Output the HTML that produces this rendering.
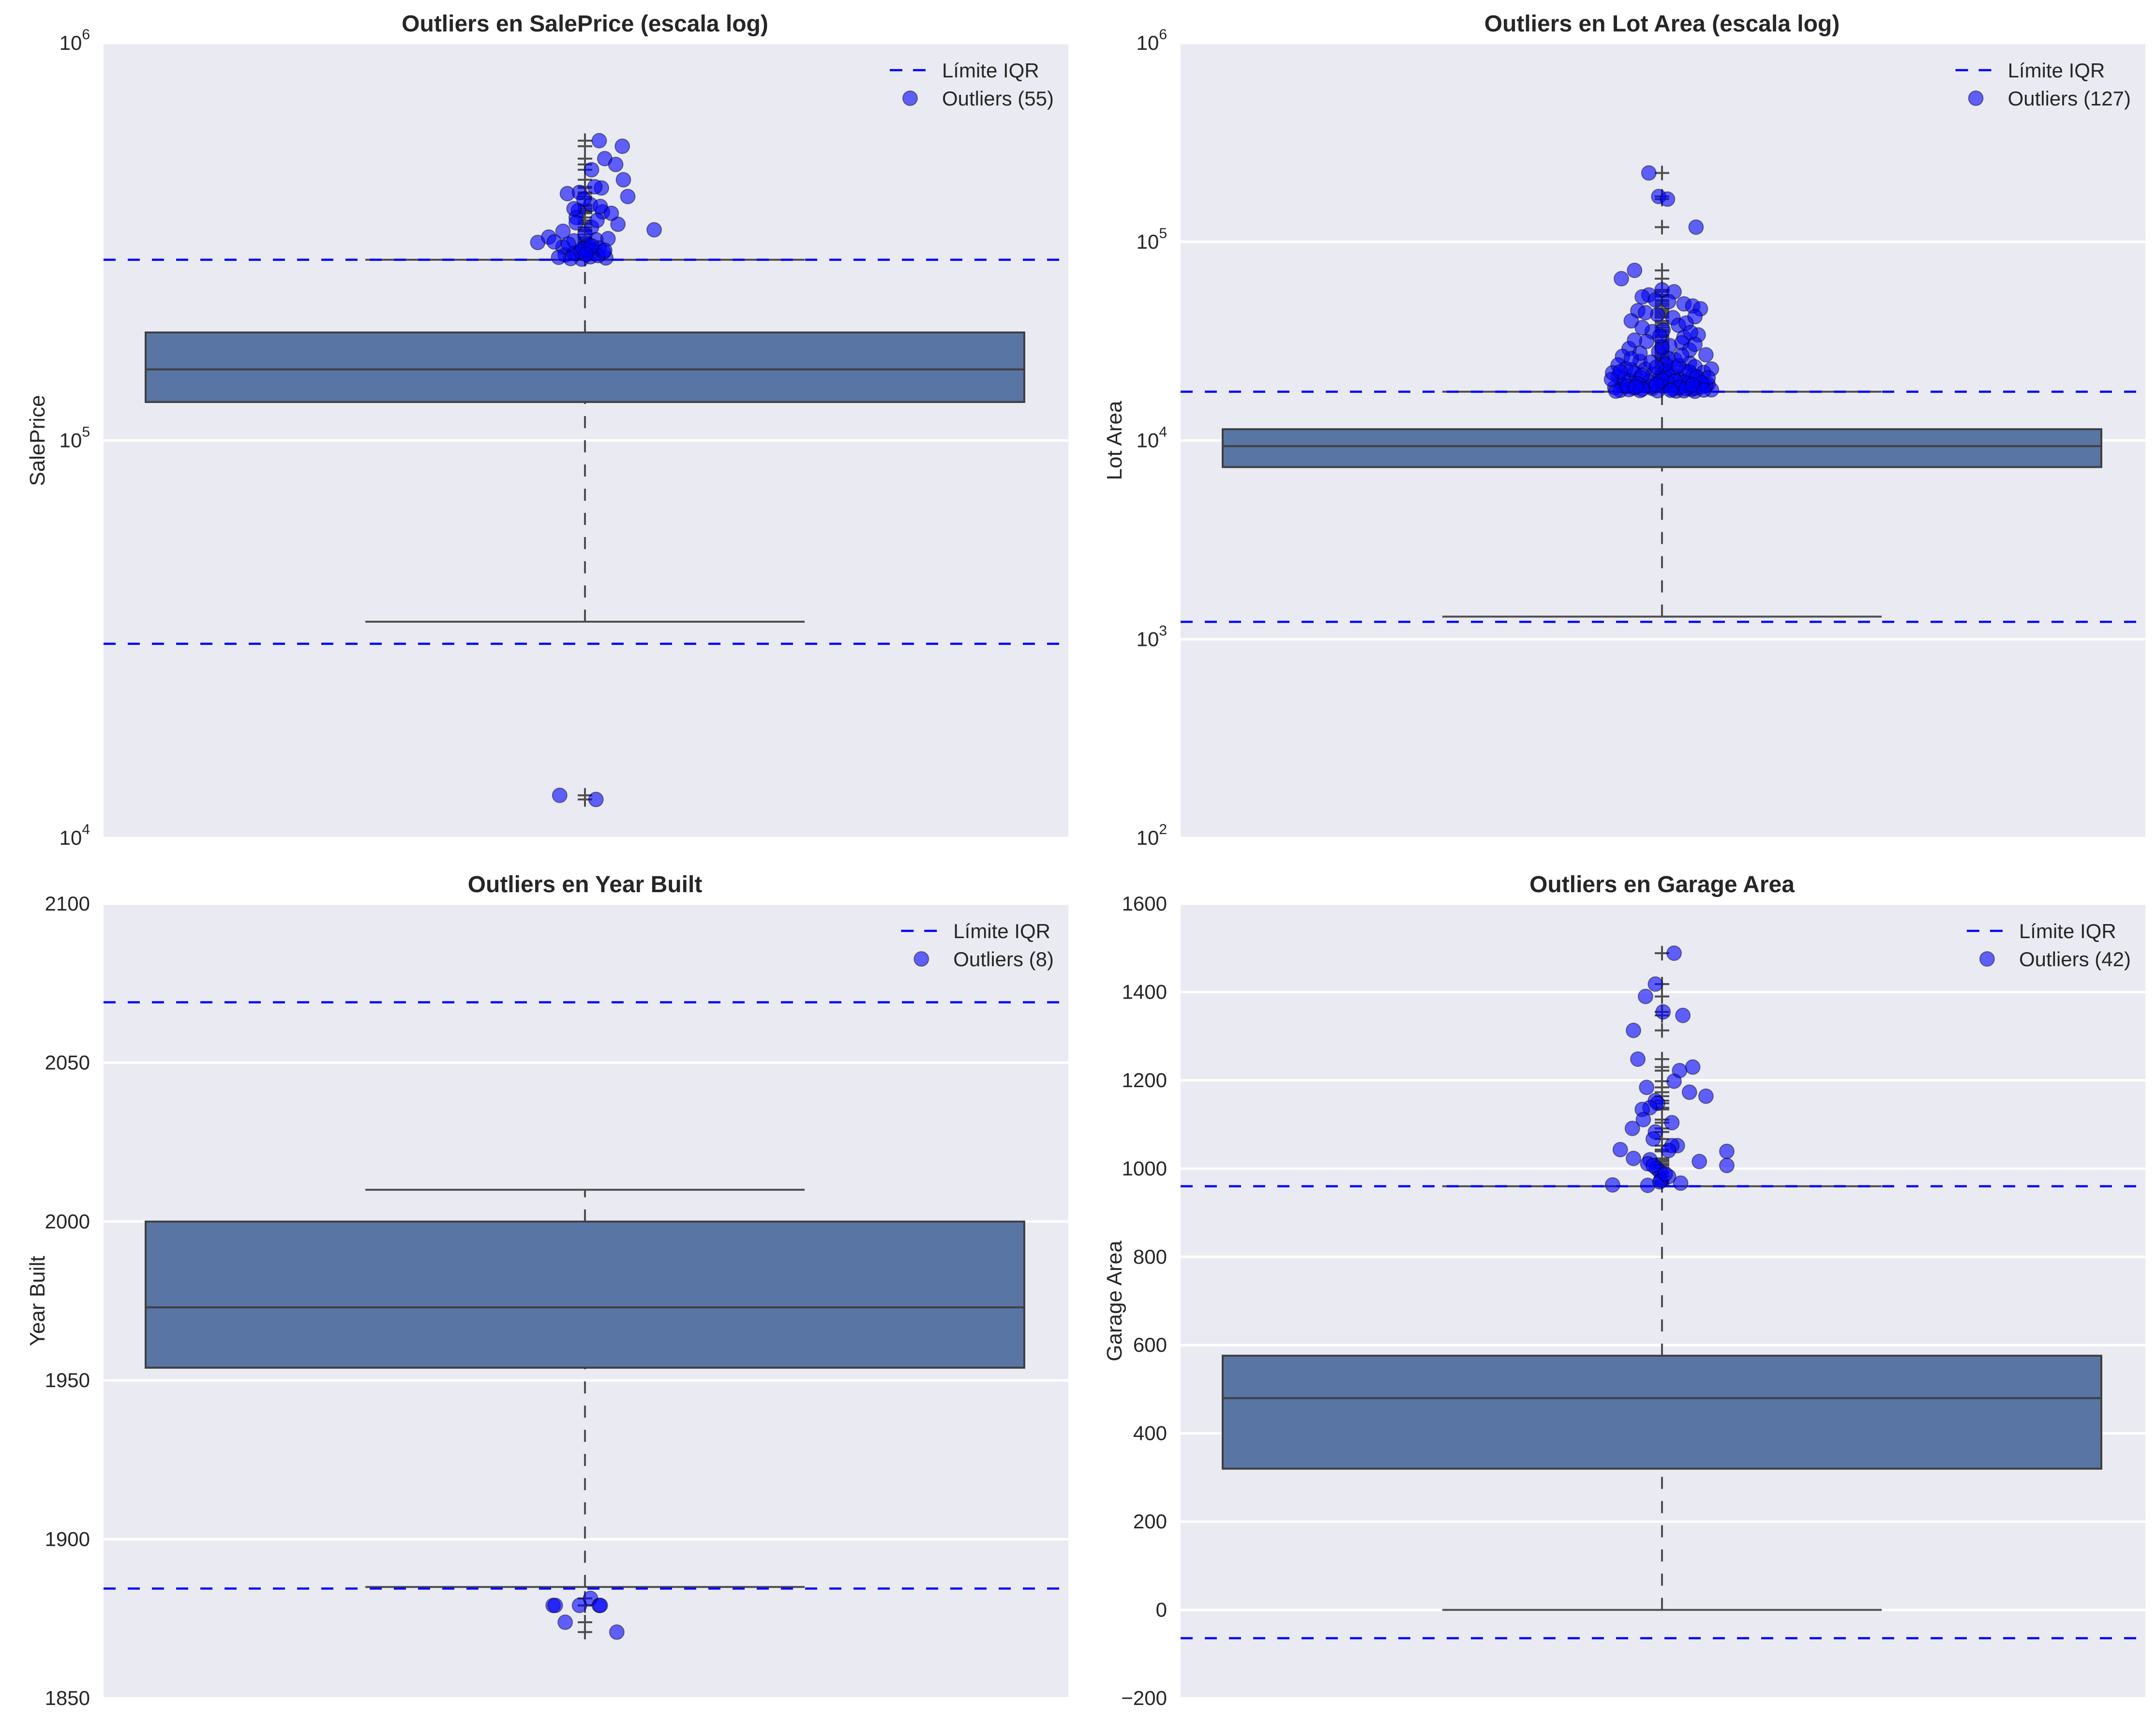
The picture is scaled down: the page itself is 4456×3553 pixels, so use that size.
<!DOCTYPE html>
<html><head><meta charset="utf-8"><style>
html,body{margin:0;padding:0;background:#fff}
svg{display:block;font-family:"Liberation Sans",Arial,sans-serif}
</style></head><body>
<svg id="fig" xmlns="http://www.w3.org/2000/svg" width="4456" height="3553" viewBox="0 0 4456 3553"></svg>
<script>
// ---------- Panel 1: SalePrice (log) ----------
const spStats = [35000, 125000, 151000, 187000, 285000]; // whisker low, Q1, median, Q3, whisker high
const spLimits = [30800, 285000];
const spValues = [568000,550000,512000,495000,480000,453000,432000,418000,421000,411000,392000,376000,379000,350000,339000,344000,315000,325000,336000,364000,318000,320000,293000,295000,300000,286000,290000,287000,310000,358000,405000,373000,435000,353000,330000,305000,307000,388000,296000,299000,302000,312000,288000,292000,298000,304000,322000,316000,309000,289000,301000,294000,383000,12800,12500];
const spJitter = [0.013,0.034,0.018,0.028,0.006,0.035,0.015,-0.016,-0.005,0.039,0.005,0.016,-0.006,0.030,0.063,0.006,-0.043,-0.033,-0.020,-0.008,-0.010,0.010,-0.018,-0.008,0.008,-0.003,0.005,-0.013,0.003,0.011,-0.001,0.024,0.009,-0.008,0.000,0.013,-0.020,0.014,-0.010,-0.004,0.003,-0.015,0.019,0.012,0.017,-0.002,0.021,-0.028,0.006,-0.024,0.018,0.001,-0.010,-0.023,0.010];
const spTicks = [4,5,6];

// ---------- Panel 2: Lot Area (log) ----------
const laStats = [1300, 7350, 9370, 11400, 17600];
const laLimits = [1224, 17600];
const laValues = [222000,169000,164000,118500,71800,65200,57300,56000,54000,52800,51000,50000,48700,47500,45000,46000,43000,41500,40000,38000,36000,35300,34000,33000,31500,31000,30000,29000,28000,27000,26500,25500,25000,24500,24000,23500,
23000,22800,22500,22300,22000,21800,21600,21400,21200,21000,20800,20600,20400,20200,20000,19800,19600,19400,19200,19000,18900,18800,18700,18600,18500,18400,18300,18200,18100,18000,17900,17850,17800,17750,17700,
23200,22700,22100,21700,21300,20900,20500,20100,19700,19300,18950,18650,18350,18050,17800,26000,24800,23800,27500,28500,32000,37000,39000,42000,44000,30500,29500,26800,25800,24200,23400,22900,21900,20700,19900,19100,18450,18150,17900,17720,33500,35000,22200,20300,19500,18750,18250,18550,19050,17950];
const laJitter = [-0.012,-0.003,0.005,0.031,-0.025,-0.037,0.000,0.011,-0.012,-0.018,-0.006,0.006,0.020,0.028,-0.022,0.035,-0.004,0.010,-0.028,0.015,0.001,-0.009,0.033,0.020,-0.014,0.018,0.007,-0.030,-0.003,0.040,-0.036,0.012,-0.020,0.025,-0.040,0.030,
-0.033,-0.015,0.003,0.021,0.038,-0.025,-0.008,0.010,0.028,-0.040,-0.020,-0.002,0.016,0.034,-0.030,-0.012,0.006,0.024,0.042,-0.036,-0.018,0.000,0.018,0.036,-0.043,-0.026,-0.009,0.009,0.027,0.045,-0.038,-0.020,-0.004,0.013,0.030,
0.012,-0.028,0.025,0.005,-0.018,0.032,-0.035,0.000,0.020,-0.022,0.040,-0.010,0.030,-0.030,0.020,0.005,-0.010,0.015,-0.020,0.025,-0.025,-0.018,0.022,0.030,-0.015,0.030,0.000,0.018,-0.028,0.003,-0.005,0.045,-0.045,0.042,0.012,-0.005,0.015,-0.018,0.008,-0.042,-0.002,0.026,-0.038,-0.046,0.036,-0.032,0.022,-0.024,0.028,0.038];
const laTicks = [2,3,4,5,6];

// ---------- Panel 3: Year Built ----------
const ybStats = [1885, 1954, 1973, 2000, 2010];
const ybLimits = [1884.5, 2069];
const ybValues = [1879.2,1873.9,1879.2,1881.4,1879.2,1879.2,1870.8,1879.2];
const ybJitter = [-0.029,-0.018,-0.005,0.005,0.013,0.014,0.029,-0.027];
const ybTicks = [1850,1900,1950,2000,2050,2100];

// ---------- Panel 4: Garage Area ----------
const gaStats = [0, 320, 480, 576, 960];
const gaLimits = [-64, 960];
const gaValues = [1488,1418,1390,1355,1347,1313,1248,1230,1222,1198,1184,1173,1164,1154,1148,1138,1134,1111,1104,1091,1083,1067,1052,1052,1041,1039,1043,1023,1020,1016,1011,1007,1001,993,982,973,967,963,962,970,988,1007];
const gaJitter = [0.011,-0.006,-0.015,0.001,0.019,-0.026,-0.022,0.028,0.016,0.011,-0.014,0.025,0.040,-0.006,-0.004,-0.011,-0.018,-0.017,0.009,-0.027,-0.006,-0.008,0.014,0.009,0.006,0.059,-0.038,-0.026,-0.011,0.034,-0.013,0.059,-0.005,-0.002,0.006,-0.001,0.017,-0.045,-0.013,-0.002,0.003,-0.008];
const gaTicks = [-200,0,200,400,600,800,1000,1200,1400,1600];

const titles = ["Outliers en SalePrice (escala log)","Outliers en Lot Area (escala log)","Outliers en Year Built","Outliers en Garage Area"];
const ylabels = ["SalePrice","Lot Area","Year Built","Garage Area"];
const legendCounts = ["Outliers (55)","Outliers (127)","Outliers (8)","Outliers (42)"];

const NS="http://www.w3.org/2000/svg";
const svg=document.getElementById('fig');
function mk(tag,attrs,parent){const e=document.createElementNS(NS,tag);for(const k in attrs)e.setAttribute(k,attrs[k]);(parent||svg).appendChild(e);return e;}

const panels=[
 {x:214,y:89,w:1994,h:1643,log:true,dom:[4,6],ticks:spTicks,stats:spStats,lim:spLimits,vals:spValues,jit:spJitter,key:'saleprice'},
 {x:2440,y:89,w:1994,h:1643,log:true,dom:[2,6],ticks:laTicks,stats:laStats,lim:laLimits,vals:laValues,jit:laJitter,key:'lot-area'},
 {x:214,y:1868,w:1994,h:1642,log:false,dom:[1850,2100],ticks:ybTicks,stats:ybStats,lim:ybLimits,vals:ybValues,jit:ybJitter,key:'year-built'},
 {x:2440,y:1868,w:1994,h:1642,log:false,dom:[-200,1600],ticks:gaTicks,stats:gaStats,lim:gaLimits,vals:gaValues,jit:gaJitter,key:'garage-area'}
];
const UNIT=2270;

panels.forEach((p,i)=>{
  const g=mk('g',{});
  
  
  const yS=v=>{const t=p.log?Math.log10(v):v;return p.y+p.h-(t-p.dom[0])/(p.dom[1]-p.dom[0])*p.h;};
  const yT=t=>p.y+p.h-(t-p.dom[0])/(p.dom[1]-p.dom[0])*p.h;
  const cx=p.x+p.w/2-2;
  const xS=j=>cx+j*UNIT;
  const bg=mk('rect',{x:p.x,y:p.y,width:p.w,height:p.h,fill:'#eaeaf2'},g);
  
  
  p.ticks.forEach(t=>{
    const yy=yT(t);
    const gl=mk('line',{x1:p.x,x2:p.x+p.w,y1:yy,y2:yy,stroke:'#fff','stroke-width':5},g);
    
    
    const tx=mk('text',{x:p.x-28,y:yy+14,'text-anchor':'end','font-size':42,fill:'#262626'},g);
    
    
    if(p.log){
      const a=mk('tspan',{},tx);a.textContent='10';
      const b=mk('tspan',{dy:-22,'font-size':30},tx);b.textContent=String(t);
    } else tx.textContent=(t<0?'\u2212'+Math.abs(t):String(t));
  });
  const s=p.stats;
  const half=0.4*UNIT, cap=0.2*UNIT;
  [[s[0],s[1]],[s[3],s[4]]].forEach(([a,b])=>{
    const w=mk('line',{x1:cx,x2:cx,y1:yS(a),y2:yS(b),stroke:'#4d4d4d','stroke-width':4,'stroke-dasharray':'25 25'},g);
    
    
  });
  [s[0],s[4]].forEach(v=>{
    const c=mk('line',{x1:cx-cap,x2:cx+cap,y1:yS(v),y2:yS(v),stroke:'#4d4d4d','stroke-width':4},g);
    
    
  });
  const box=mk('rect',{x:cx-half,y:yS(s[3]),width:2*half,height:yS(s[1])-yS(s[3]),fill:'#5875a4',stroke:'#3f3f3f','stroke-width':4},g);
  
  
  const md=mk('line',{x1:cx-half,x2:cx+half,y1:yS(s[2]),y2:yS(s[2]),stroke:'#3f3f3f','stroke-width':4},g);
  
  
  p.vals.forEach(v=>{
    const yy=yS(v);
    const f=mk('path',{d:`M${cx-15},${yy}H${cx+15}M${cx},${yy-15}V${yy+15}`,stroke:'#4d4d4d','stroke-width':4,fill:'none'},g);
    
    
  });
  p.lim.forEach(v=>{
    const l=mk('line',{x1:p.x,x2:p.x+p.w,y1:yS(v),y2:yS(v),stroke:'#0000ff','stroke-width':4.5,'stroke-dasharray':'25 25'},g);
    
    
  });
  p.vals.forEach((v,k)=>{
    const c=mk('circle',{cx:xS(p.jit[k]),cy:yS(v),r:15,fill:'rgba(0,0,255,0.6)',stroke:'rgba(0,0,0,0.45)','stroke-width':2},g);
    
    
  });
  const tt=mk('text',{x:cx,y:p.y-24,'text-anchor':'middle','font-size':48,'font-weight':'bold',fill:'#262626'},g);
  tt.textContent=titles[i];
  
  
  const lx=p.x-122, ly=p.y+p.h/2;
  const yl=mk('text',{x:lx,y:ly,'text-anchor':'middle','font-size':44,fill:'#262626',transform:`rotate(-90 ${lx} ${ly})`},g);
  yl.textContent=ylabels[i];
  
  
  const lg=mk('g',{},g);
  
  
  const t1=mk('text',{y:p.y+71,'font-size':42,fill:'#262626'},lg);t1.textContent='Límite IQR';
  
  
  const t2=mk('text',{y:p.y+129,'font-size':42,fill:'#262626'},lg);t2.textContent=legendCounts[i];
  
  
  const wmax=Math.max(t1.getComputedTextLength(),t2.getComputedTextLength());
  const tx0=p.x+p.w-30-wmax;
  t1.setAttribute('x',tx0);t2.setAttribute('x',tx0);
  const ll=mk('line',{x1:tx0-108,x2:tx0-24,y1:p.y+56,y2:p.y+56,stroke:'#0000ff','stroke-width':4.5,'stroke-dasharray':'26 22'},lg);
  
  
  const lc=mk('circle',{cx:tx0-66,cy:p.y+114,r:15,fill:'rgba(0,0,255,0.6)',stroke:'rgba(0,0,0,0.45)','stroke-width':2},lg);
  
  
});
</script>
</body></html>
